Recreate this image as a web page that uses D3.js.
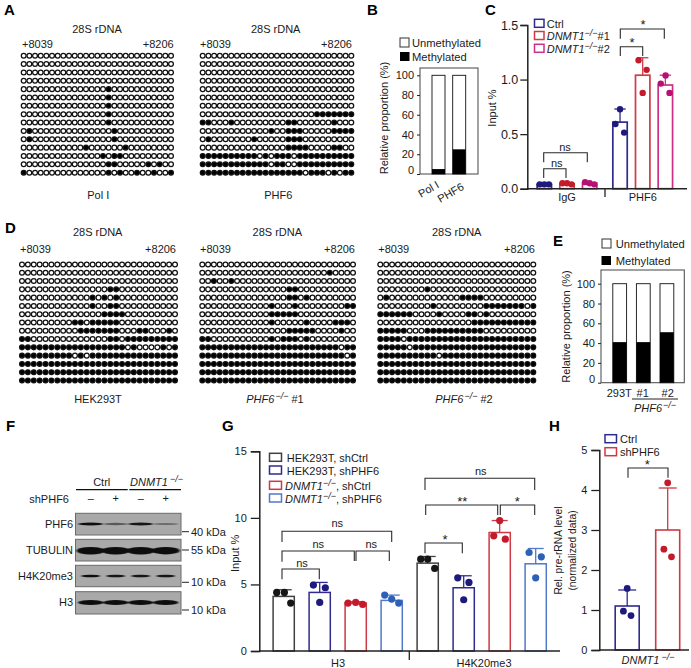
<!DOCTYPE html>
<html><head><meta charset="utf-8">
<script src="https://cdn.jsdelivr.net/npm/d3@7"></script>
<style>
html,body{margin:0;padding:0;background:#fff}
svg{display:block}
text{font-family:"Liberation Sans",Arial,sans-serif;font-size:11px;fill:#1a1a1a}
</style></head><body><svg id="c" width="691" height="668"></svg>
<script>
// ---- data ----
const dotsA1 = ["","","","","15","15","15","15","15","1,16","1,16","11,18","14,16,17","15,16,22,24","0,15,17,20,23,26"];
const dotsA2 = ["","","","","","","","20-26","0,1,5,15,16,23","12,15-17,23-26","1,9,15-17","15-18,23,24","!10,12,16","!12,15,16","!18,22,24"];
const dotsD1 = ["","","","15,16","12,14,16","12,15,16","14-17","9,10,12-16","10-16,20,21,25","0,1,15,16,18-26","!18,20,21,22,23,25","!9,11","*","*","*"];
const dotsD2 = ["","22","2,5","15,16","15,16,18","12,16,25,26","12-16","12,18,23-25","15-19,24","0,1,12,14-16,18","!24","!25","*","*","*"];
const dotsD3 = ["","","","8","1,14-17","9,18-24,26","0-5,10,15,16,18","16-26","0-4,8-17","!4","!5","!10","*","*","*"];

const stackB = ["Pol I","PHF6"];
const methB = [5,25];
const stackE = ["293T","#1","#2"];
const methE = [41,41,51];

const seriesC = ["Ctrl","DNMT1 #1","DNMT1 #2"];
const colorsC = ["#2f2a8f","#cf3b46","#cb2f8a"];
const dotColorsC = ["#1d1a7c","#c31a2c","#b80f74"];
const groupsC = ["IgG","PHF6"];
const meansC = {IgG:[0.04,0.045,0.05],PHF6:[0.61,1.04,0.95]};
const capsC = {IgG:[0.05,0.055,0.06],PHF6:[0.73,1.2,1.04]};
const pointsC = {IgG:[[0.04,0.04,0.04],[0.05,0.05,0.04],[0.06,0.05,0.04]],PHF6:[[0.593,0.728,0.514],[1.177,1.089,0.878],[0.963,1.037,0.878]]};
const jitterC = {IgG:[[-1,0,1],[-1,0,1],[-1,0,1]],PHF6:[[-1,0,0.9],[-0.9,0.85,0],[-1,0.05,0.9]]};

const seriesG = ["H3 a","H3 b","H3 c","H3 d","H4 a","H4 b","H4 c","H4 d"];
const meansG = [4.1,4.4,3.6,3.8,6.6,4.75,8.9,6.55];
const capsG = [4.6,5.15,3.7,4.2,7.1,5.65,9.8,7.7];
const pointsG = [[4.4,4.4,3.6],[4.95,4.75,3.65],[3.6,3.65,3.5],[4.2,3.9,3.6],[6.9,6.9,6.2],[5.5,5.15,3.85],[8.65,9.8,8.4],[7.4,7.07,5.5]];
const jitterG = [[-1,0.1,1],[-0.9,0.8,0],[-1.1,0,1],[-1,0,1],[-1,0,1],[-0.85,0.75,0],[-0.85,0,0.8],[-0.95,0.8,0]];
const colorsG = ["#404040","#2f2a8f","#cc3a44","#5079c8","#404040","#2f2a8f","#cc3a44","#5079c8"];
const dotColorsG = ["#161616","#1d1a7c","#c41a2c","#2f60b8","#161616","#1d1a7c","#c41a2c","#2f60b8"];
const legendG = [["HEK293T, shCtrl"],["HEK293T, shPHF6"],["DNMT1",", shCtrl"],["DNMT1",", shPHF6"]];

const seriesH = ["Ctrl","shPHF6"];
const colorsH = ["#2f2a8f","#cc3a44"];
const dotColorsH = ["#1d1a7c","#c41a2c"];
const meansH = [1.1,3.0];
const capsH = [1.5,4.05];
const pointsH = [[1.54,0.97,0.86],[4.18,2.52,2.33]];
const jitterH = [[0,-1,1],[0,-1,1]];

const blots = ["PHF6","TUBULIN","H4K20me3","H3"];
const kda = ["40 kDa","55 kDa","10 kDa","10 kDa"];
const lanes = ["Ctrl -","Ctrl +","KO -","KO +"];
const lanePlus = ["–","+","–","+"];
const bandStrength = [[0.95,0.4,0.9,0.25],[1,1,1,0.95],[0.95,0.9,0.9,0.9],[1,0.95,0.95,1]];

// ---- drawing ----
const svg = d3.select("#c");
const defs = svg.append("defs");
defs.append("filter").attr("id","blur").attr("x","-20%").attr("y","-100%").attr("width","140%").attr("height","300%")
  .append("feGaussianBlur").attr("stdDeviation","0.9 0.6");

function T(x,y,s,o={}){
  const t = svg.append("text").attr("x",x).attr("y",y).text(s);
  if(o.anchor) t.attr("text-anchor",o.anchor);
  if(o.size) t.style("font-size",o.size+"px");
  if(o.bold) t.style("font-weight","bold");
  if(o.italic) t.style("font-style","italic");
  if(o.fill) t.style("fill",o.fill);
  if(o.rotate!==undefined) t.attr("transform",`rotate(${o.rotate} ${x} ${y})`);
  return t;
}
function KO(x,y,base,suffix,o={}){
  const t = svg.append("text").attr("x",x).attr("y",y).style("font-size",(o.size||11)+"px");
  if(o.anchor) t.attr("text-anchor",o.anchor);
  t.append("tspan").style("font-style","italic").text(base);
  t.append("tspan").style("font-style","italic").style("font-size","9px").attr("dy",-4).attr("dx",o.gap||0).text("−/−");
  t.append("tspan").attr("dy",4).text(suffix||"");
  return t;
}
function parseRow(r){
  const on = new Set();
  const body = r.replace("!","");
  if(r==="*"||r[0]==="!") d3.range(27).forEach(i=>on.add(i));
  if(body && body!=="*") body.split(",").forEach(p=>{
    const [a,b] = p.split("-").map(Number);
    d3.range(a,(b===undefined?a:b)+1).forEach(i=> r[0]==="!"?on.delete(i):on.add(i));
  });
  return d3.range(27).map(i=>on.has(i));
}
function dots(rows,x0,x1,y0,y1){
  const x = d3.scalePoint().domain(d3.range(27)).range([x0,x1]);
  const y = d3.scalePoint().domain(d3.range(rows.length)).range([y0,y1]);
  const g = svg.append("g");
  g.selectAll("g").data(rows.map(parseRow)).join("g").each(function(row,ri){
    d3.select(this).selectAll("circle").data(row).join("circle")
      .attr("cx",(d,i)=>x(i)).attr("cy",y(ri)).attr("r",2.4)
      .attr("fill",d=>d?"#000":"#fff").attr("stroke","#111").attr("stroke-width",1.25);
  });
}
function styleAxis(g,w=1.5,size=11){
  g.selectAll("path.domain").attr("stroke","#222").attr("stroke-width",w);
  g.selectAll("line").attr("stroke","#222").attr("stroke-width",w===1.5?1.3:1);
  g.selectAll("text").style("font-size",size+"px").style("fill","#1a1a1a").style("font-family",'"Liberation Sans",Arial,sans-serif');
}
function bracket(x1,x2,y,l,r){
  svg.append("path").attr("d",d3.line()([[x1,y+l],[x1,y],[x2,y],[x2,y+(r===undefined?l:r)]]))
    .attr("fill","none").attr("stroke","#2a2a2a").attr("stroke-width",1.1);
}
const ns = (x,y)=>T(x,y,"ns",{anchor:"middle"});
const star = (x,y,s="*")=>T(x,y,s,{anchor:"middle",size:13});
function legendBox(x,y,w,h,c,sw=1.5){
  svg.append("rect").attr("x",x).attr("y",y-h/2).attr("width",w).attr("height",h).attr("fill","#fff").attr("stroke",c).attr("stroke-width",sw);
}
function bars(cx,yS,means,caps,points,jitter,colors,dotColors,o){
  const base = yS(0);
  means.forEach((m,i)=>{
    const c = cx[i];
    svg.append("rect").attr("x",c-o.hw).attr("y",yS(m)).attr("width",o.hw*2).attr("height",base-yS(m))
      .attr("fill","#fff").attr("stroke",colors[i]).attr("stroke-width",o.sw);
    if(caps[i]>m+0.02){
      svg.append("line").attr("x1",c).attr("x2",c).attr("y1",yS(m)).attr("y2",yS(caps[i])).attr("stroke",colors[i]).attr("stroke-width",1.3);
      svg.append("line").attr("x1",c-o.cap).attr("x2",c+o.cap).attr("y1",yS(caps[i])).attr("y2",yS(caps[i])).attr("stroke",colors[i]).attr("stroke-width",1.3);
    }
    svg.append("g").selectAll("circle").data(points[i]).join("circle")
      .attr("cx",(d,k)=>c+jitter[i][k]*o.jit).attr("cy",d=>yS(d)).attr("r",o.r).attr("fill",dotColors[i]);
  });
}
function stacked(cats,meth,yS,x0,x1,y0,y1,cxs,hw){
  svg.append("rect").attr("x",x0).attr("y",y0).attr("width",x1-x0).attr("height",y1-y0).attr("fill","#fff").attr("stroke","#555").attr("stroke-width",1.1);
  cats.forEach((c,i)=>{
    svg.append("rect").attr("x",cxs(c)-hw).attr("y",yS(100)).attr("width",hw*2).attr("height",yS(0)-yS(100)).attr("fill","#fff").attr("stroke","#111").attr("stroke-width",0.9);
    svg.append("rect").attr("x",cxs(c)-hw).attr("y",yS(meth[i])).attr("width",hw*2).attr("height",yS(0)-yS(meth[i])).attr("fill","#000");
  });
  const a = svg.append("g").attr("transform",`translate(${x0},0)`).call(d3.axisLeft(yS).tickValues([0,20,40,60,80,100]).tickSize(3).tickPadding(3));
  a.select("path.domain").remove();
  styleAxis(a,1);
  a.selectAll(".tick").filter(d=>d===0).select("text").attr("dy","-0.05em");
}
function letter(s,x,y){T(x,y,s,{bold:true,size:15,fill:"#000"});}

// letters
[["A",4,15],["B",367,15],["C",485,15],["D",5,233],["E",553,246],["F",6,431],["G",222,431],["H",549,431]].forEach(d=>letter(...d));

// Panel A
T(97,33,"28S rDNA",{anchor:"middle"}); T(275.7,33,"28S rDNA",{anchor:"middle"});
T(22,48,"+8039"); T(173.7,48,"+8206",{anchor:"end"});
T(200,48,"+8039"); T(352,48,"+8206",{anchor:"end"});
dots(dotsA1,23.7,171,55.7,172.7);
dots(dotsA2,202.7,351.3,55.7,172.7);
T(98.3,199,"Pol I",{anchor:"middle"}); T(278.3,199,"PHF6",{anchor:"middle"});

// Panel B
legendBox(400,42.5,9,9,"#333",1);
svg.append("rect").attr("x",400).attr("y",52).attr("width",9.5).attr("height",9).attr("fill","#000");
T(412,46.5,"Unmethylated",{size:11.2}); T(412,61,"Methylated",{size:11.2});
const yB = d3.scaleLinear().domain([0,100]).range([174,75.3]);
const xB = d3.scalePoint().domain(stackB).range([438.5,459.2]);
stacked(stackB,methB,yB,420,478,68,174,xB,6.5);
T(388,118,"Relative proportion (%)",{anchor:"middle",rotate:-90});
T(xB("Pol I")+1.5,187,"Pol I",{anchor:"end",rotate:-30});
T(xB("PHF6")+5.5,189,"PHF6",{anchor:"end",rotate:-30});

// Panel C
const yC = d3.scaleLinear().domain([0,1.5]).range([188.7,25]);
const xGroupC = d3.scaleOrdinal().domain(groupsC).range([567,642.7]);
const xInnerC = d3.scalePoint().domain(seriesC).range([-22.67,22.67]);
groupsC.forEach(g=>bars(seriesC.map(s=>xGroupC(g)+xInnerC(s)),yC,meansC[g],capsC[g],pointsC[g],jitterC[g],colorsC,dotColorsC,{hw:7.2,sw:1.7,cap:5.7,jit:4.6,r:3.2}));
const axC = svg.append("g").attr("transform","translate(527.3,0)").call(d3.axisLeft(yC).tickValues([0,0.5,1,1.5]).tickFormat(d3.format(".1f")).tickSize(7).tickPadding(2));
styleAxis(axC,1.5,12.5);
svg.append("line").attr("x1",527.3).attr("x2",687).attr("y1",yC(0)).attr("y2",yC(0)).attr("stroke","#222").attr("stroke-width",1.5);
svg.append("line").attr("x1",605).attr("x2",605).attr("y1",189).attr("y2",197).attr("stroke","#222").attr("stroke-width",1.3);
groupsC.forEach(g=>T(xGroupC(g),201,g,{anchor:"middle"}));
T(496,108,"Input %",{anchor:"middle",rotate:-90});
legendBox(534.5,23.3,9.5,8,colorsC[0]); legendBox(534.5,35.5,9.5,8,colorsC[1]); legendBox(534.5,48.3,9.5,8,colorsC[2]);
T(546.7,27.5,"Ctrl"); KO(546.7,40,"DNMT1","#1"); KO(546.7,53,"DNMT1","#2");
bracket(543.7,587.3,152.7,9.6); ns(565,151);
bracket(543.7,566,168.7,9.4); ns(556.7,166.5);
bracket(620.3,664.3,29,9.7); star(643,29);
bracket(620.3,642.7,46.7,9.3); star(632,47);

// Panel D
[97.7,277.3,456.7].forEach(x=>T(x,236,"28S rDNA",{anchor:"middle"}));
T(20,253,"+8039"); T(176,253,"+8206",{anchor:"end"});
T(200,253,"+8039"); T(355,253,"+8206",{anchor:"end"});
T(378.3,253,"+8039"); T(535,253,"+8206",{anchor:"end"});
dots(dotsD1,22,175,264.5,380.5);
dots(dotsD2,202.3,353,264.5,380.5);
dots(dotsD3,380.3,533.3,264.5,380.5);
T(98,403,"HEK293T",{anchor:"middle"});
KO(275,403,"PHF6"," #1",{anchor:"middle",gap:1});
KO(464,403,"PHF6"," #2",{anchor:"middle",gap:1});

// Panel E
legendBox(602,243.5,9,9,"#333",1);
svg.append("rect").attr("x",601.5).attr("y",256).attr("width",9.5).attr("height",9).attr("fill","#000");
T(615.7,247.5,"Unmethylated",{size:11.2}); T(615.7,264.5,"Methylated",{size:11.2});
const yE = d3.scaleLinear().domain([0,100]).range([382.7,283.7]);
const xE = d3.scalePoint().domain(stackE).range([619.7,666.9]);
stacked(stackE,methE,yE,601,684.3,270,382.7,xE,6.9);
T(570,326.5,"Relative proportion (%)",{anchor:"middle",rotate:-90});
T(619.3,397,"293T",{anchor:"middle"}); T(642.7,397,"#1",{anchor:"middle"}); T(667.7,397,"#2",{anchor:"middle"});
svg.append("line").attr("x1",632).attr("x2",678).attr("y1",399).attr("y2",399).attr("stroke","#222").attr("stroke-width",1);
KO(655,412,"PHF6","",{anchor:"middle",gap:1});

// Panel F
const blotY = [[513.3,535,524],[539.3,561,550.7],[565.3,586.7,576],[591.7,614,602.5]];
const laneX = d3.scalePoint().domain(lanes).range([90.7,165.7]);
const bandW = [12.5,14,9.5,12.5], bandH = [1.6,3.8,1.3,2.6];
const kdaY = [531.7,550,582.3,610];
blots.forEach((b,i)=>{
  const [y0,y1,yc] = blotY[i];
  svg.append("rect").attr("x",75.5).attr("y",y0).attr("width",105.5).attr("height",y1-y0).attr("fill","#a9a9a9").attr("stroke","#6a6a6a").attr("stroke-width",1);
  const g = svg.append("g").attr("filter","url(#blur)");
  lanes.forEach((l,k)=>{
    const st = bandStrength[i][k];
    g.append("ellipse").attr("cx",laneX(l)).attr("cy",yc).attr("rx",bandW[i]).attr("ry",bandH[i]*(0.55+0.45*st))
      .attr("fill",`rgb(${[0,0,0].map(()=>Math.round(130*(1-st)+10))})`);
  });
  T(73,yc+3.5,b,{anchor:"end"});
  svg.append("line").attr("x1",182).attr("x2",189).attr("y1",kdaY[i]).attr("y2",kdaY[i]).attr("stroke","#222").attr("stroke-width",1);
  T(191,kdaY[i]+4,kda[i]);
});
T(101.7,486,"Ctrl",{anchor:"middle"});
KO(130,486,"DNMT1","",{gap:2});
svg.append("line").attr("x1",76).attr("x2",127.7).attr("y1",489.7).attr("y2",489.7).attr("stroke","#111").attr("stroke-width",1.2);
svg.append("line").attr("x1",129.3).attr("x2",181).attr("y1",489.7).attr("y2",489.7).attr("stroke","#111").attr("stroke-width",1.2);
T(69,502.5,"shPHF6",{anchor:"end"});
lanes.forEach((l,k)=>T(laneX(l),502,lanePlus[k],{anchor:"middle"}));

// Panel G
const yG = d3.scaleLinear().domain([0,15]).range([651,451.3]);
const xG = d3.scalePoint().domain(seriesG).range([283.7,535.7]);
bars(seriesG.map(xG),yG,meansG,capsG,pointsG,jitterG,colorsG,dotColorsG,{hw:10.6,sw:1.5,cap:8,jit:7,r:3.6});
const axG = svg.append("g").attr("transform","translate(259.3,0)").call(d3.axisLeft(yG).tickValues([0,5,10,15]).tickSize(8.5).tickPadding(4));
styleAxis(axG);
svg.append("line").attr("x1",259.3).attr("x2",560).attr("y1",yG(0)).attr("y2",yG(0)).attr("stroke","#222").attr("stroke-width",1.5);
svg.append("line").attr("x1",409.3).attr("x2",409.3).attr("y1",651).attr("y2",660).attr("stroke","#222").attr("stroke-width",1.3);
T(338,667,"H3",{anchor:"middle"}); T(484,667,"H4K20me3",{anchor:"middle"});
T(239,553.3,"Input %",{anchor:"middle",rotate:-90});
[457.3,470,485.3,498].forEach((y,i)=>legendBox(269.5,y,12,8,colorsG[i]));
T(286.7,461.5,legendG[0][0]); T(286.7,474.5,legendG[1][0]);
KO(285,489.5,legendG[2][0],legendG[2][1]); KO(285,502.5,legendG[3][0],legendG[3][1]);
bracket(282,391.7,531.3,10.7); ns(337.3,527);
bracket(282,354.3,551,10.7,10); ns(318.3,548);
bracket(356,389.3,551,10); ns(371.3,548);
bracket(282,319.3,569,10.3); ns(302,566.5);
bracket(425,462.3,543,10.3); star(445,544);
bracket(425.7,497.7,505,10); star(462.3,506,"**");
bracket(500.3,534.7,505,10); star(517.3,506);
bracket(425,534.7,478.3,11.7); ns(480.7,475);

// Panel H
const yH = d3.scaleLinear().domain([0,5]).range([650,450]);
const xH = d3.scalePoint().domain(seriesH).range([627.2,667.7]);
bars(seriesH.map(xH),yH,meansH,capsH,pointsH,jitterH,colorsH,dotColorsH,{hw:12,sw:1.6,cap:9,jit:3.8,r:3.4});
const axH = svg.append("g").attr("transform","translate(599.3,0)").call(d3.axisLeft(yH).tickValues([0,1,2,3,4,5]).tickFormat(d3.format("d")).tickSize(8).tickPadding(4));
styleAxis(axH);
svg.append("line").attr("x1",599.3).attr("x2",689).attr("y1",yH(0)).attr("y2",yH(0)).attr("stroke","#222").attr("stroke-width",1.5);
legendBox(605,438.7,11.5,8,colorsH[0]); legendBox(605,451.7,11.5,8,colorsH[1]);
T(620,442.7,"Ctrl"); T(620,455.7,"shPHF6");
bracket(628,668,468,9.7); star(647.3,469);
T(562,550.5,"Rel. pre-rRNA level",{anchor:"middle",rotate:-90,size:10.3});
T(576,550.5,"(normalized data)",{anchor:"middle",rotate:-90,size:10.3});
KO(648,664,"DNMT1","",{anchor:"middle",gap:2});
</script></body></html>
